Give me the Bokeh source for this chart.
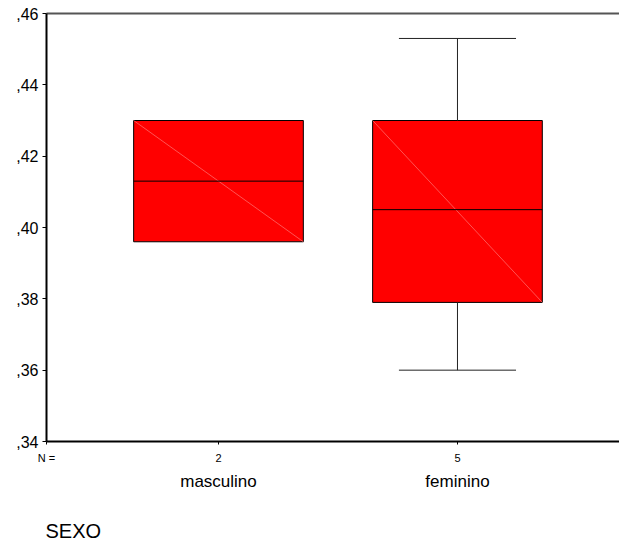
from bokeh.plotting import figure
from bokeh.models import LinearAxis, FixedTicker, Range1d, Title
from bokeh.embed import file_html
from bokeh.resources import INLINE

# ---- data ----
categories = ["masculino", "feminino"]
n_counts = [2, 5]
whisker_low = [0.396, 0.360]
q1 = [0.396, 0.379]
median = [0.413, 0.405]
q3 = [0.430, 0.430]
whisker_high = [0.430, 0.453]
y_ticks = [0.34, 0.36, 0.38, 0.40, 0.42, 0.44, 0.46]
y_tick_labels = [",34", ",36", ",38", ",40", ",42", ",44", ",46"]
axis_title = "SEXO"
n_prefix = "N ="

# ---- styling / layout ----
FONT = "Liberation Sans"
BOX_W = 0.71
CAP_W = 0.49
X0, X1 = 0.2803, 2.678
Y0, Y1 = 0.34, 0.46

xs = [i + 1 for i in range(len(categories))]

p = figure(width=619, height=544,
           x_range=Range1d(X0, X1), y_range=Range1d(Y0, Y1),
           output_backend="svg", toolbar_location=None,
           x_axis_location=None, y_axis_location=None,
           min_border_left=46, min_border_right=0,
           min_border_top=13, min_border_bottom=103)
p.outline_line_color = None
p.grid.visible = False
p.background_fill_color = "white"
p.border_fill_color = "white"

# left axis
yax = LinearAxis(ticker=FixedTicker(ticks=y_ticks),
                 major_label_overrides=dict(zip(y_ticks, y_tick_labels)),
                 axis_line_color="black", axis_line_width=2,
                 major_tick_line_color="black", major_tick_line_width=1,
                 major_tick_in=0, major_tick_out=4,
                 minor_tick_line_color=None,
                 major_label_standoff=4,
                 major_label_text_font=FONT,
                 major_label_text_font_size="16px",
                 major_label_text_color="black")
p.add_layout(yax, "left")

# top border line
top = LinearAxis(ticker=FixedTicker(ticks=[]),
                 axis_line_color="#555555", axis_line_width=2,
                 major_tick_line_color=None, minor_tick_line_color=None,
                 major_tick_in=0, major_tick_out=0, major_label_standoff=0,
                 major_label_text_font_size="0px")
p.add_layout(top, "above")

# bottom axis with N counts (first label "N =" sits at the frame's left edge)
n_ticks = [X0] + xs
n_labels = {X0: n_prefix}
n_labels.update({x: str(n) for x, n in zip(xs, n_counts)})
ax_n = LinearAxis(ticker=FixedTicker(ticks=n_ticks),
                  major_label_overrides=n_labels,
                  axis_line_color="black", axis_line_width=2,
                  major_tick_line_color="black", major_tick_in=0, major_tick_out=3,
                  minor_tick_line_color=None,
                  major_label_standoff=7,
                  major_label_text_font=FONT,
                  major_label_text_font_size="11px",
                  major_label_text_color="black")
p.add_layout(ax_n, "below")

# category names (blank axis label only adds vertical spacing before the title)
ax_cat = LinearAxis(ticker=FixedTicker(ticks=xs),
                    major_label_overrides=dict(zip(xs, categories)),
                    axis_line_color=None,
                    major_tick_line_color=None, minor_tick_line_color=None,
                    major_tick_in=0, major_tick_out=0,
                    major_label_standoff=5,
                    major_label_text_font=FONT,
                    major_label_text_font_size="17px",
                    major_label_text_color="black",
                    axis_label=" ", axis_label_standoff=0,
                    axis_label_text_font_size="17px")
p.add_layout(ax_cat, "below")

# axis title
p.add_layout(Title(text=axis_title, align="left", offset=-1, standoff=4,
                   text_font=FONT, text_font_size="20px",
                   text_font_style="normal", text_color="black"), "below")

# boxes
p.vbar(x=xs, width=BOX_W, bottom=q1, top=q3,
       fill_color="#ff0000", line_color="black", line_width=1)
# faint diagonal artifact
p.segment(x0=[x - BOX_W / 2 for x in xs], y0=q3,
          x1=[x + BOX_W / 2 for x in xs], y1=q1,
          line_color="#ff8c8c", line_width=0.6)
# medians
p.segment(x0=[x - BOX_W / 2 for x in xs], y0=median,
          x1=[x + BOX_W / 2 for x in xs], y1=median,
          line_color="black", line_width=1)

# whiskers (only where they extend beyond the box)
hi = [(x, a, b) for x, a, b in zip(xs, q3, whisker_high) if b > a]
lo = [(x, a, b) for x, a, b in zip(xs, q1, whisker_low) if b < a]
for group in (hi, lo):
    if group:
        gx = [g[0] for g in group]
        ga = [g[1] for g in group]
        gb = [g[2] for g in group]
        p.segment(x0=gx, y0=ga, x1=gx, y1=gb, line_color="#222222", line_width=1)
        p.segment(x0=[x - CAP_W / 2 for x in gx], y0=gb,
                  x1=[x + CAP_W / 2 for x in gx], y1=gb,
                  line_color="#222222", line_width=1)

open("out.html", "w").write(file_html(p, INLINE))
